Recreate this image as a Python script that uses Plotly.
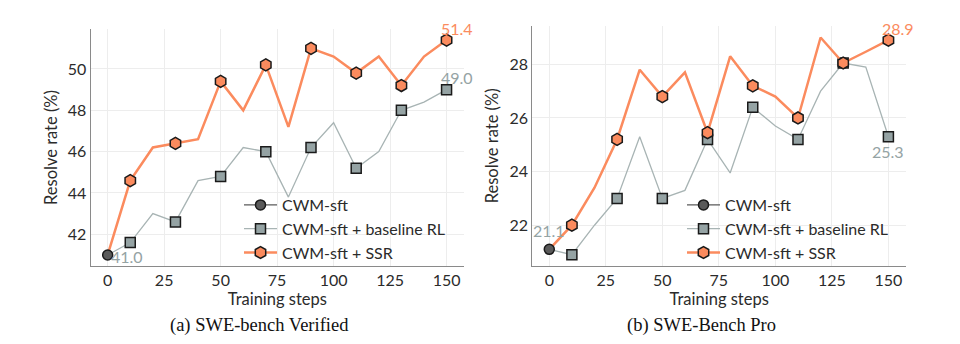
import plotly.graph_objects as go

# Training steps at which each run was evaluated
steps = [0, 10, 20, 30, 40, 50, 60, 70, 80, 90, 100, 110, 120, 130, 140, 150]
marked_steps = [10, 30, 50, 70, 90, 110, 130, 150]

# SWE-bench Verified resolve rates (%)
verified_ssr = [41.0, 44.6, 46.2, 46.4, 46.6, 49.4, 48.0, 50.2, 47.2, 51.0, 50.6, 49.8, 50.6, 49.2, 50.6, 51.4]
verified_rl = [41.0, 41.6, 43.0, 42.6, 44.6, 44.8, 46.2, 46.0, 43.8, 46.2, 47.4, 45.2, 46.0, 48.0, 48.4, 49.0]

# SWE-Bench Pro resolve rates (%)
pro_ssr = [21.1, 22.0, 23.4, 25.2, 27.8, 26.8, 27.7, 25.45, 28.3, 27.2, 26.8, 26.0, 29.0, 28.05, 28.47, 28.9]
pro_rl = [21.1, 20.9, 22.0, 23.0, 25.3, 23.0, 23.3, 25.2, 23.95, 26.4, 25.7, 25.2, 27.0, 28.05, 27.9, 25.3]

series_names = ["CWM-sft", "CWM-sft + baseline RL", "CWM-sft + SSR"]
y_ticks_verified = [42, 44, 46, 48, 50]
y_ticks_pro = [22, 24, 26, 28]
x_ticks = [0, 25, 50, 75, 100, 125, 150]
captions = ["(a) SWE-bench Verified", "(b) SWE-Bench Pro"]

ORANGE = "#FB8B5E"
GRAY_FILL = "#95A3A4"
GRAY_LINE = "#A8B4B4"
DARK = "#5A5A5A"
TEXT = "#2B2B2B"
FONT = "Lato"

fig = go.Figure()


def pick(values, keep):
    xs, ys = [], []
    for s, v in zip(steps, values):
        if s in keep:
            xs.append(s)
            ys.append(v)
    return xs, ys


panels = [
    dict(xa="x", ya="y", legend="legend", ssr=verified_ssr, rl=verified_rl),
    dict(xa="x2", ya="y2", legend="legend2", ssr=pro_ssr, rl=pro_rl),
]

for p in panels:
    common = dict(xaxis=p["xa"], yaxis=p["ya"], legend=p["legend"], hoverinfo="skip")
    # baseline RL
    fig.add_trace(go.Scatter(x=steps, y=p["rl"], mode="lines", line=dict(color=GRAY_LINE, width=1.3),
                             showlegend=False, **common))
    mx, my = pick(p["rl"], marked_steps)
    fig.add_trace(go.Scatter(x=mx, y=my, mode="markers",
                             marker=dict(symbol="square", size=10, color=GRAY_FILL,
                                         line=dict(color="#1a1a1a", width=1.5)),
                             showlegend=False, **common))
    # SSR
    fig.add_trace(go.Scatter(x=steps, y=p["ssr"], mode="lines", line=dict(color=ORANGE, width=2.5),
                             showlegend=False, **common))
    mx, my = pick(p["ssr"], marked_steps)
    fig.add_trace(go.Scatter(x=mx, y=my, mode="markers",
                             marker=dict(symbol="hexagon", size=12, color=ORANGE,
                                         line=dict(color="#1a1a1a", width=1.5)),
                             showlegend=False, **common))
    # CWM-sft starting point
    fig.add_trace(go.Scatter(x=steps[:1], y=p["ssr"][:1], mode="markers",
                             marker=dict(symbol="circle", size=10, color=DARK,
                                         line=dict(color="#1a1a1a", width=1.5)),
                             showlegend=False, **common))
    # legend entries
    styles = [
        dict(line=dict(color=DARK, width=1.3),
             marker=dict(symbol="circle", size=10, color=DARK, line=dict(color="#1a1a1a", width=1.5))),
        dict(line=dict(color=GRAY_LINE, width=1.3),
             marker=dict(symbol="square", size=10, color=GRAY_FILL, line=dict(color="#1a1a1a", width=1.5))),
        dict(line=dict(color=ORANGE, width=2.5),
             marker=dict(symbol="hexagon", size=12, color=ORANGE, line=dict(color="#1a1a1a", width=1.5))),
    ]
    for name, st in zip(series_names, styles):
        fig.add_trace(go.Scatter(x=[None], y=[None], mode="lines+markers", name=name,
                                 showlegend=True, **st, **common))

axis_common = dict(showline=True, linecolor="#8a8a8a", linewidth=1.2, mirror=False,
                   showgrid=True, gridcolor="#EDEDED", gridwidth=1, zeroline=False,
                   ticks="", tickfont=dict(family=FONT, size=16, color=TEXT),
                   title_font=dict(family=FONT, size=16.5, color=TEXT))

fig.update_layout(
    width=960, height=344,
    margin=dict(l=0, r=0, t=0, b=0),
    plot_bgcolor="white", paper_bgcolor="white",
    font=dict(family=FONT, color=TEXT),
    xaxis=dict(domain=[0.0945, 0.4833], range=[-7.5, 157.7], tickvals=x_ticks,
               title=dict(text="Training steps", standoff=3), anchor="y", **axis_common),
    yaxis=dict(domain=[0.2276, 0.9148], range=[40.48, 51.92], tickvals=y_ticks_verified,
               title=dict(text="Resolve rate (%)", standoff=6), anchor="x", **axis_common),
    xaxis2=dict(domain=[0.5545, 0.9438], range=[-7.5, 157.8], tickvals=x_ticks,
                title=dict(text="Training steps", standoff=3), anchor="y2", **axis_common),
    yaxis2=dict(domain=[0.2276, 0.9244], range=[20.49, 29.43], tickvals=y_ticks_pro,
                title=dict(text="Resolve rate (%)", standoff=6), anchor="x2", **axis_common),
    legend=dict(x=239 / 960, y=1 - 188 / 344, xanchor="left", yanchor="top",
                bgcolor="rgba(255,255,255,0)", font=dict(family=FONT, size=16, color=TEXT),
                itemwidth=33, tracegroupgap=0),
    legend2=dict(x=682 / 960, y=1 - 188 / 344, xanchor="left", yanchor="top",
                 bgcolor="rgba(255,255,255,0)", font=dict(family=FONT, size=16, color=TEXT),
                 itemwidth=33, tracegroupgap=0),
)

# value labels at the start and end of each run
labels = [
    ("x", "y", 150, verified_ssr[-1], ORANGE, 10, -12),
    ("x", "y", 150, verified_rl[-1], GRAY_FILL, 10, -12),
    ("x", "y", 0, verified_ssr[0], GRAY_FILL, 19, 2),
    ("x2", "y2", 150, pro_ssr[-1], ORANGE, 10, -12),
    ("x2", "y2", 150, pro_rl[-1], GRAY_FILL, 0, 15),
    ("x2", "y2", 0, pro_ssr[0], GRAY_FILL, 0, -19),
]
for xr, yr, xv, yv, col, dx, dy in labels:
    fig.add_annotation(x=xv, y=yv, xref=xr, yref=yr, text=f"{yv:.1f}", showarrow=False,
                       xshift=dx, yshift=-dy, font=dict(family=FONT, size=16, color=col))

# sub-figure captions
for cx, text in zip([259 / 960, 701 / 960], captions):
    fig.add_annotation(x=cx, y=1 - 325 / 344, xref="paper", yref="paper", text=text,
                       showarrow=False, xanchor="center", yanchor="middle",
                       font=dict(family="Liberation Serif", size=18.5, color="#111111"))

fig.write_html("out.html")
